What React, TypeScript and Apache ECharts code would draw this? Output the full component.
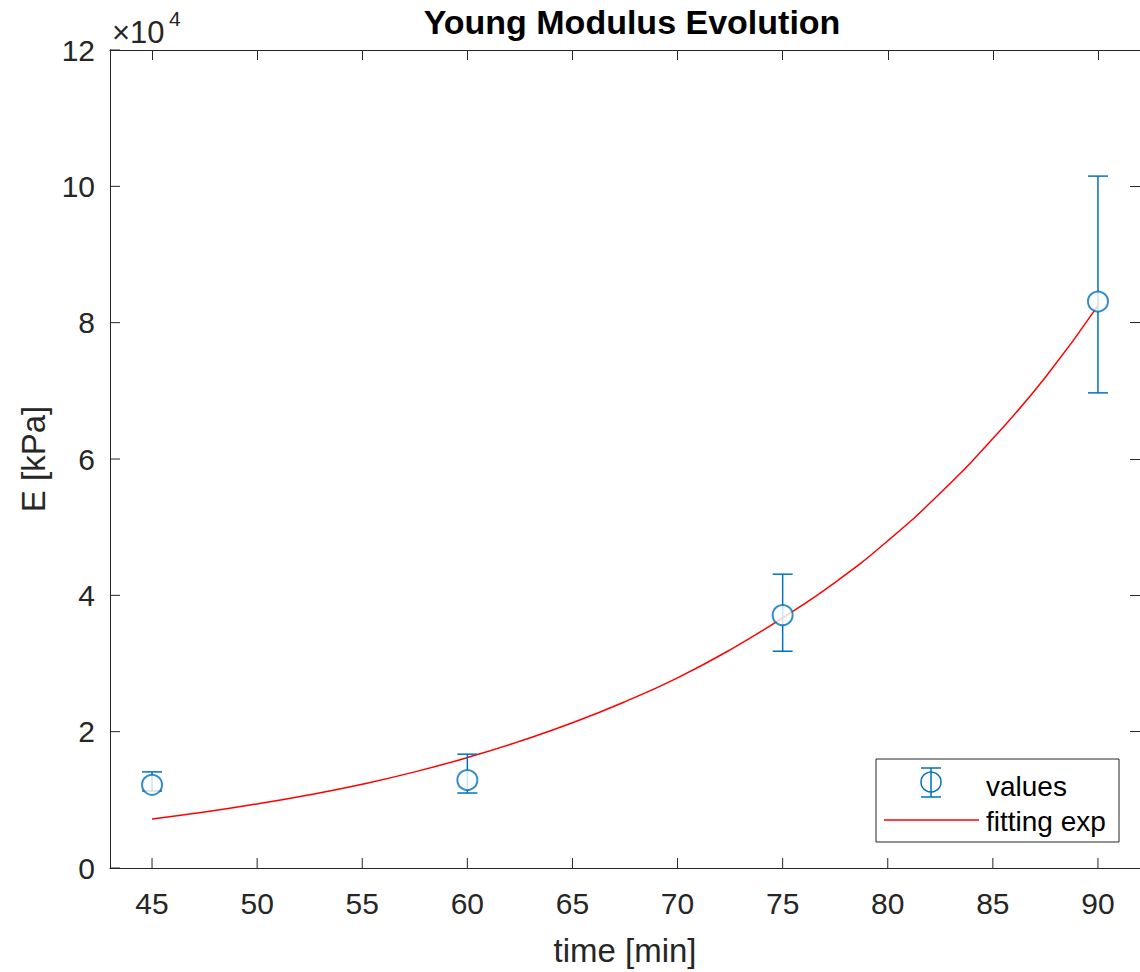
import React, { useEffect, useRef } from "react";
import * as echarts from "echarts";

const times = [45, 60, 75, 90];
const means = [12200, 12900, 37100, 83100];
const lower = [11300, 11000, 31800, 69700];
const upper = [14100, 16700, 43100, 101500];

const fitX = [45, 47.5, 50, 52.5, 55, 57.5, 60, 62.5, 65, 67.5, 70, 72.5, 75, 77.5, 80, 82.5, 85, 87.5, 90];
const fitY = [7200, 8200, 9400, 10750, 12300, 14100, 16200, 18600, 21300, 24400, 27900, 32000, 36700, 41900, 48000, 55000, 63000, 72000, 82500];

const yTicks = [0, 2, 4, 6, 8, 10, 12];
const xTicks = [45, 50, 55, 60, 65, 70, 75, 80, 85, 90];
const Y_SCALE = 10000;
const X_MIN = 43;
const X_MAX = 92;

const BLUE = "#0072BD";
const AX = "#262626";
const FONT = "'Liberation Sans', Arial, sans-serif";

export default function App() {
  const ref = useRef<HTMLDivElement>(null);
  useEffect(() => {
    const chart = echarts.init(ref.current!, undefined, { renderer: "svg" });
    const line = { show: true, onZero: false, lineStyle: { color: AX, width: 1 } };
    const tickIn = { show: true, inside: true, length: 10, lineStyle: { color: AX, width: 1 } };
    const tickStyle = { stroke: AX, lineWidth: 1 };
    const option: any = {
      animation: false,
      backgroundColor: "#fff",
      title: {
        text: "Young Modulus Evolution",
        left: 627,
        textAlign: "center",
        top: 0,
        textStyle: { fontFamily: FONT, fontSize: 34, fontWeight: "bold", color: "#000" },
      },
      grid: { left: 110, top: 50, width: 1034, height: 818 },
      xAxis: [
        {
          type: "value",
          min: X_MIN,
          max: X_MAX,
          name: "time [min]",
          nameLocation: "middle",
          nameGap: 66,
          nameTextStyle: { fontFamily: FONT, fontSize: 33, color: AX },
          axisLine: line,
          splitLine: { show: false },
          axisLabel: {
            fontFamily: FONT,
            fontSize: 30,
            color: AX,
            margin: 20,
            customValues: xTicks,
          },
          axisTick: { show: false },
        },
        {
          type: "value",
          position: "top",
          min: X_MIN,
          max: X_MAX,
          axisLine: line,
          splitLine: { show: false },
          axisLabel: { show: false },
          axisTick: { ...tickIn, customValues: xTicks },
        },
      ],
      yAxis: [
        {
          type: "value",
          min: 0,
          max: 120000,
          interval: 20000,
          name: "E [kPa]",
          nameLocation: "middle",
          nameGap: 60,
          nameRotate: 90,
          nameTextStyle: { fontFamily: FONT, fontSize: 33, color: AX },
          axisLine: line,
          splitLine: { show: false },
          axisTick: { show: false },
          axisLabel: {
            fontFamily: FONT,
            fontSize: 30,
            color: AX,
            margin: 15,
            formatter: (v: number) => String(v / Y_SCALE),
          },
        },
        {
          type: "value",
          position: "right",
          min: 0,
          max: 120000,
          interval: 20000,
          axisLine: line,
          splitLine: { show: false },
          axisTick: tickIn,
          axisLabel: { show: false },
        },
      ],
      series: [
        {
          type: "custom",
          name: "xticks",
          silent: true,
          data: xTicks.map((t) => [t, 0]),
          renderItem: (params: any, api: any) => {
            const p = api.coord([api.value(0), api.value(1)]);
            return { type: "line", shape: { x1: p[0], y1: p[1], x2: p[0], y2: p[1] - 10 }, style: tickStyle };
          },
          z: 2,
        },
        {
          type: "custom",
          name: "yticks",
          silent: true,
          data: yTicks.map((t) => [X_MIN, t * Y_SCALE]),
          renderItem: (params: any, api: any) => {
            const p = api.coord([api.value(0), api.value(1)]);
            return { type: "line", shape: { x1: p[0], y1: p[1], x2: p[0] + 10, y2: p[1] }, style: tickStyle };
          },
          z: 2,
        },
        {
          type: "line",
          name: "fitting exp",
          data: fitX.map((x, i) => [x, fitY[i]]),
          smooth: 0.5,
          showSymbol: false,
          lineStyle: { color: "#FF0000", width: 1.5 },
          z: 3,
        },
        {
          type: "custom",
          name: "errors",
          data: times.map((t, i) => [t, lower[i], upper[i]]),
          renderItem: (params: any, api: any) => {
            const x = api.value(0);
            const lo = api.coord([x, api.value(1)]);
            const hi = api.coord([x, api.value(2)]);
            const w = 10;
            const st = { stroke: BLUE, lineWidth: 1.5 };
            return {
              type: "group",
              children: [
                { type: "line", shape: { x1: lo[0], y1: lo[1], x2: hi[0], y2: hi[1] }, style: st },
                { type: "line", shape: { x1: lo[0] - w, y1: lo[1], x2: lo[0] + w, y2: lo[1] }, style: st },
                { type: "line", shape: { x1: hi[0] - w, y1: hi[1], x2: hi[0] + w, y2: hi[1] }, style: st },
              ],
            };
          },
          z: 4,
        },
        {
          type: "scatter",
          name: "values",
          data: times.map((t, i) => [t, means[i]]),
          symbol: "emptyCircle",
          symbolSize: 20,
          itemStyle: { color: BLUE, borderColor: BLUE, borderWidth: 1.5 },
          z: 5,
        },
      ],
      graphic: [
        {
          type: "text",
          x: 112,
          y: 48,
          style: {
            text: "×10",
            fontFamily: FONT,
            fontSize: 31,
            fill: AX,
            verticalAlign: "bottom",
          },
        },
        {
          type: "text",
          x: 169,
          y: 29,
          style: {
            text: "4",
            fontFamily: FONT,
            fontSize: 21,
            fill: AX,
            verticalAlign: "bottom",
          },
        },
        {
          type: "rect",
          shape: { x: 876, y: 759, width: 243, height: 83 },
          style: { fill: "#fff", stroke: AX, lineWidth: 1 },
          z: 10,
        },
        { type: "line", shape: { x1: 931, y1: 768, x2: 931, y2: 797 }, style: { stroke: BLUE, lineWidth: 1.5 }, z: 11 },
        { type: "line", shape: { x1: 921, y1: 768, x2: 941, y2: 768 }, style: { stroke: BLUE, lineWidth: 1.5 }, z: 11 },
        { type: "line", shape: { x1: 921, y1: 797, x2: 941, y2: 797 }, style: { stroke: BLUE, lineWidth: 1.5 }, z: 11 },
        { type: "circle", shape: { cx: 931, cy: 782, r: 10 }, style: { fill: "none", stroke: BLUE, lineWidth: 1.5 }, z: 11 },
        { type: "line", shape: { x1: 884, y1: 820, x2: 979, y2: 820 }, style: { stroke: "#FF0000", lineWidth: 1.5 }, z: 11 },
        {
          type: "text",
          x: 986,
          y: 786,
          style: { text: "values", fontFamily: FONT, fontSize: 28, fill: "#000", verticalAlign: "middle" },
          z: 11,
        },
        {
          type: "text",
          x: 986,
          y: 821,
          style: { text: "fitting exp", fontFamily: FONT, fontSize: 28, fill: "#000", verticalAlign: "middle" },
          z: 11,
        },
      ],
    };
    chart.setOption(option);
    return () => chart.dispose();
  }, []);
  return (
    <div
      ref={ref}
      style={{ position: "fixed", left: 0, top: 0, width: 1140, height: 972, background: "#fff" }}
    />
  );
}
